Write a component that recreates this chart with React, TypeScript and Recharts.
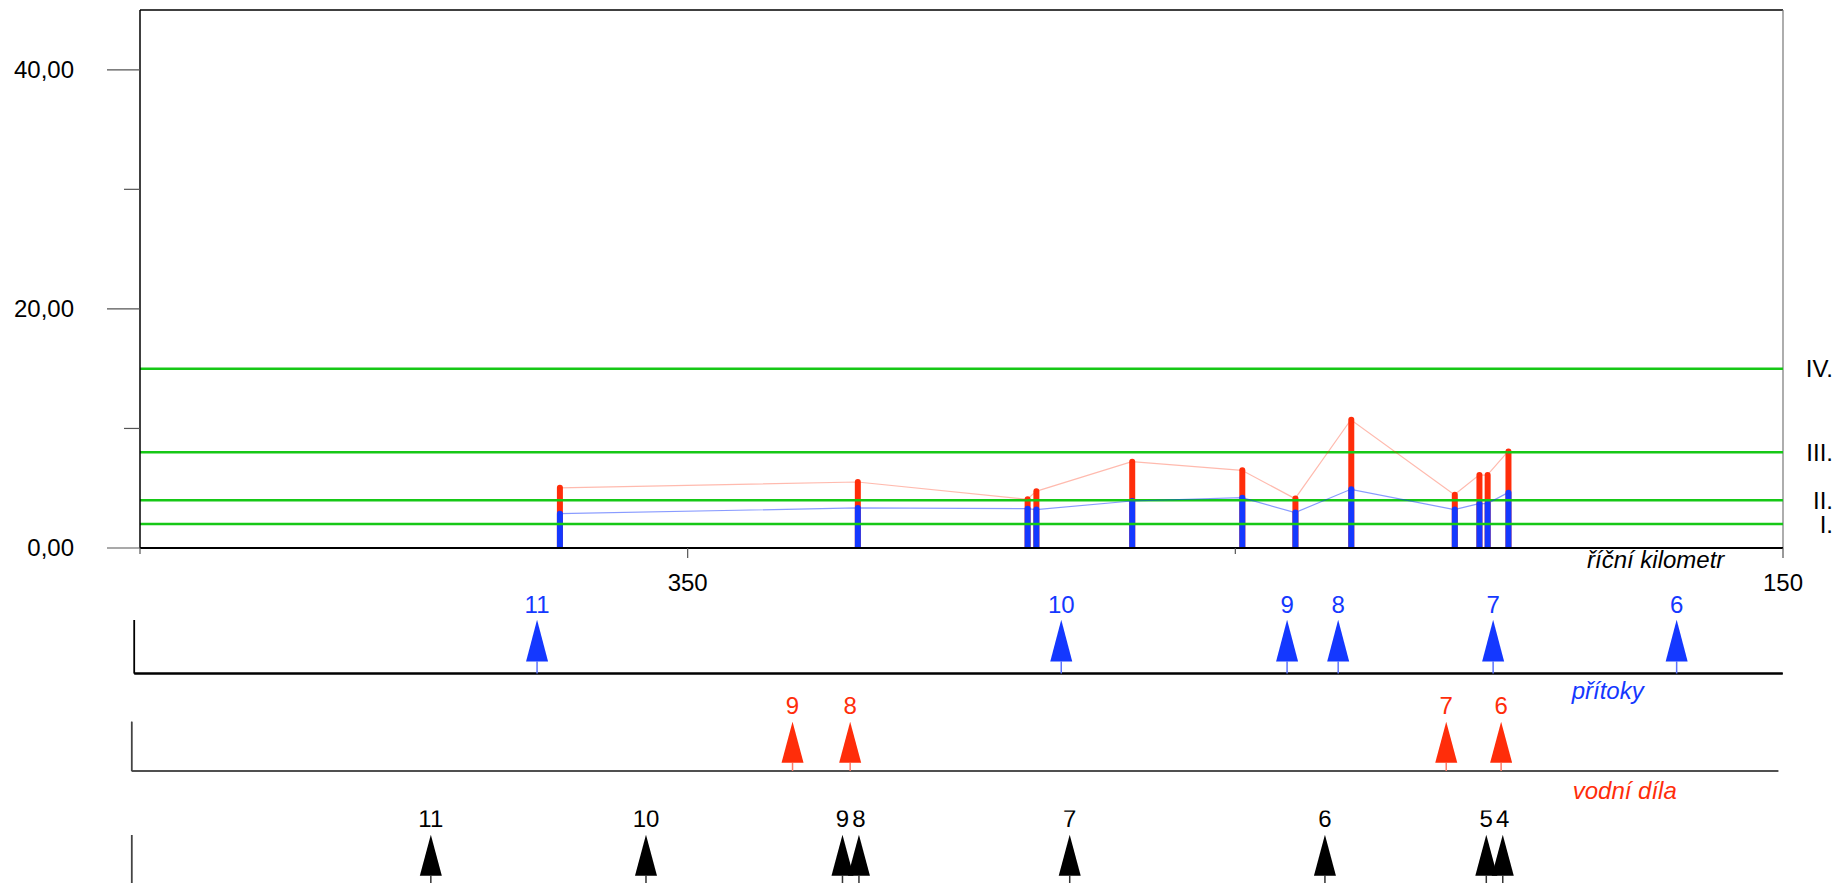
import React from 'react';
import { ComposedChart, ScatterChart, Scatter, Bar, Line, XAxis, YAxis, ReferenceLine } from 'recharts';

// stations along the river (km) with max and start water level
const stationKm = [373.4, 319.0, 288.0, 286.4, 268.9, 248.8, 239.1, 228.9, 210.0, 205.5, 204.0, 200.2];
const maxLevel = [5.03, 5.52, 4.07, 4.74, 7.22, 6.5, 4.13, 10.73, 4.46, 6.1, 6.1, 8.08];
const startLevel = [2.87, 3.35, 3.29, 3.21, 3.93, 4.21, 2.96, 4.91, 3.21, 3.71, 3.71, 4.63];

// flood activity levels
const levelValues = [2, 4, 8, 15];
const levelNames = ['I.', 'II.', 'III.', 'IV.'];

const yTicks = [0, 10, 20, 30, 40];
const yLabelled = [0, 20, 40];
const kmTicks = [450, 350, 250, 150];
const kmLabelled = [350, 150];

// tributaries, dams, gauges
const tributaryKm = [376.7, 281.3, 240.2, 230.9, 202.7, 169.3];
const tributaryNo = ['11', '10', '9', '8', '7', '6'];
const damKm = [329.6, 319.1, 210.5, 200.5];
const damNo = ['9', '8', '7', '6'];
const gaugeKm = [395.5, 356.3, 320.5, 317.5, 279.1, 232.6, 203.2, 200.2];
const gaugeNo = ['11', '10', '9', '8', '7', '6', '5', '4'];

const BLUE = '#1438ff';
const RED = '#ff2d0a';
const GREEN = '#16c816';
const FONT = "'Liberation Sans', Arial, sans-serif";

const stations = stationKm.map((km, i) => ({ km, max: maxLevel[i], start: startLevel[i] }));
const tributaries = tributaryKm.map((km, i) => ({ km, v: 0, no: tributaryNo[i] }));
const dams = damKm.map((km, i) => ({ km, v: 0, no: damNo[i] }));
const gauges = gaugeKm.map((km, i) => ({ km, v: 0, no: gaugeNo[i] }));

const YTick = (p: any) => {
  const { x, y, payload } = p;
  const major = yLabelled.includes(payload.value);
  return (
    <g>
      <line x1={x - (major ? 33 : 16)} x2={x} y1={y} y2={y} stroke="#555" strokeWidth={1.2} />
      {major && (
        <text x={x - 66} y={y + 8} textAnchor="end" fontSize={24} fontFamily={FONT} fill="#000">
          {payload.value.toFixed(2).replace('.', ',')}
        </text>
      )}
    </g>
  );
};

const KmTick = (p: any) => {
  const { x, y, payload } = p;
  const major = kmLabelled.includes(payload.value);
  return (
    <g>
      <line x1={x} x2={x} y1={y} y2={y + (major ? 10 : 6)} stroke="#555" strokeWidth={1.2} />
      {major && (
        <text x={x} y={y + 43} textAnchor="middle" fontSize={24} fontFamily={FONT} fill="#000">
          {payload.value}
        </text>
      )}
    </g>
  );
};

const barShape = (color: string) => (p: any) => {
  const { x, y, width, height } = p;
  const cx = x + width / 2;
  return <line x1={cx} x2={cx} y1={y} y2={y + height} stroke={color} strokeWidth={6} strokeLinecap="round" />;
};

const levelLabel = (name: string) => (p: any) => {
  const vb = p.viewBox || {};
  return (
    <text x={vb.x + vb.width + 50} y={vb.y + 8.5} textAnchor="end" fontSize={24} fontFamily={FONT} fill="#000">
      {name}
    </text>
  );
};

const axisText = (text: string, color: string, fromRight: number, dy: number) => (p: any) => {
  const vb = p.viewBox || {};
  return (
    <text x={vb.x + vb.width - fromRight} y={vb.y + dy} textAnchor="start" fontSize={24} fontStyle="italic" fontFamily={FONT} fill={color}>
      {text}
    </text>
  );
};

const arrowShape = (color: string, stemColor: string, stem: number, head: number, gap: number) => (p: any) => {
  const { cx, cy, payload } = p;
  const base = cy - stem;
  const apex = base - head;
  return (
    <g>
      <line x1={cx} x2={cx} y1={cy} y2={base} stroke={stemColor} strokeWidth={1.5} />
      <polygon points={`${cx - 11},${base} ${cx + 11},${base} ${cx},${apex}`} fill={color} />
      <text x={cx} y={apex - gap} textAnchor="middle" fontSize={24} fontFamily={FONT} fill={color}>
        {payload.no}
      </text>
    </g>
  );
};

const MarkerRow = ({ top, height, margin, data, color, stemColor, stem, head, gap, axisStroke, axisWidth, caption, captionColor, captionRight, captionDy }: any) => (
  <div style={{ position: 'absolute', left: 0, top }}>
    <ScatterChart width={1836} height={height} margin={margin}>
      <XAxis
        dataKey="km"
        type="number"
        domain={[150, 450]}
        reversed
        allowDataOverflow
        tick={false}
        tickLine={false}
        height={1}
        axisLine={{ stroke: axisStroke, strokeWidth: axisWidth }}
        label={caption ? axisText(caption, captionColor, captionRight, captionDy) : undefined}
      />
      <YAxis dataKey="v" type="number" domain={[0, 1]} width={1} tick={false} tickLine={false} axisLine={{ stroke: axisStroke, strokeWidth: 1.5 }} />
      <ReferenceLine x={450} stroke={axisStroke} strokeWidth={1.5} />
      <ReferenceLine y={0} stroke={axisStroke} strokeWidth={axisWidth} />
      <Scatter data={data} shape={arrowShape(color, stemColor, stem, head, gap)} isAnimationActive={false} />
    </ScatterChart>
  </div>
);

export default function App() {
  return (
    <div style={{ position: 'absolute', left: 0, top: 0, width: 1836, height: 883, overflow: 'hidden', background: '#fff', fontFamily: FONT }}>
      <div style={{ position: 'absolute', left: 0, top: 0 }}>
        <ComposedChart width={1836} height={600} data={stations} margin={{ top: 10, right: 53, bottom: 2, left: 60 }}>
          <XAxis
            xAxisId="km"
            dataKey="km"
            type="number"
            domain={[150, 450]}
            reversed
            allowDataOverflow
            ticks={kmTicks}
            interval={0}
            tickSize={0}
            tickMargin={0}
            tick={<KmTick />}
            height={50}
            axisLine={{ stroke: '#000', strokeWidth: 2 }}
            label={axisText('říční kilometr', '#000', 196, 20)}
          />
          <XAxis xAxisId="km2" dataKey="km" type="number" domain={[150, 450]} reversed allowDataOverflow hide />
          <YAxis
            type="number"
            domain={[0, 45]}
            allowDataOverflow
            ticks={yTicks}
            interval={0}
            tickSize={0}
            tickMargin={0}
            tick={<YTick />}
            width={80}
            axisLine={{ stroke: '#000', strokeWidth: 1.5 }}
          />
          <ReferenceLine xAxisId="km" y={45} stroke="#000" strokeWidth={1.5} />
          <ReferenceLine xAxisId="km" x={150} stroke="#777" strokeWidth={1.2} />
          {levelValues.map((v, i) => (
            <ReferenceLine key={v} xAxisId="km" y={v} stroke={GREEN} strokeWidth={2.5} label={levelLabel(levelNames[i])} />
          ))}
          <Line xAxisId="km" type="linear" dataKey="max" stroke={RED} strokeOpacity={0.33} strokeWidth={1.2} dot={false} isAnimationActive={false} />
          <Line xAxisId="km" type="linear" dataKey="start" stroke={BLUE} strokeOpacity={0.5} strokeWidth={1.2} dot={false} isAnimationActive={false} />
          <Bar xAxisId="km" dataKey="max" barSize={5} shape={barShape(RED)} isAnimationActive={false} />
          <Bar xAxisId="km2" dataKey="start" barSize={5} shape={barShape(BLUE)} isAnimationActive={false} />
        </ComposedChart>
      </div>
      <MarkerRow
        top={560}
        height={160}
        margin={{ top: 60, right: 53.3, bottom: 45.5, left: 133.3 }}
        data={tributaries}
        color={BLUE}
        stemColor="#5a72ff"
        stem={12}
        head={41.7}
        gap={7.3}
        axisStroke="#000"
        axisWidth={2}
        caption="přítoky"
        captionColor={BLUE}
        captionRight={211}
        captionDy={25.5}
      />
      <MarkerRow
        top={680}
        height={160}
        margin={{ top: 41.7, right: 57.7, bottom: 68, left: 130.7 }}
        data={dams}
        color={RED}
        stemColor="#ff7a66"
        stem={8.3}
        head={41}
        gap={7.7}
        axisStroke="#444"
        axisWidth={1.5}
        caption="vodní díla"
        captionColor={RED}
        captionRight={205.6}
        captionDy={28}
      />
      <MarkerRow
        top={790}
        height={200}
        margin={{ top: 45, right: 57.7, bottom: 105, left: 130.7 }}
        data={gauges}
        color="#000"
        stemColor="#333"
        stem={8.3}
        head={41}
        gap={7.7}
        axisStroke="#444"
        axisWidth={1.5}
      />
    </div>
  );
}
